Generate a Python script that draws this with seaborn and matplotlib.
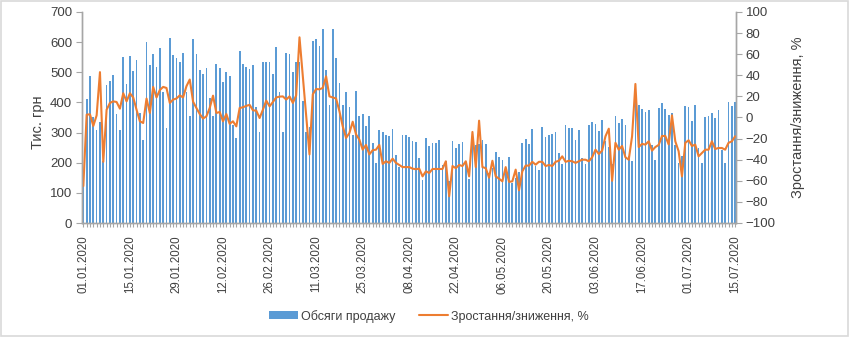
import matplotlib
matplotlib.use("Agg")
import matplotlib.pyplot as plt
from matplotlib.patches import Patch, Rectangle
from matplotlib.lines import Line2D
import seaborn as sns
import pandas as pd

# ---- data ----
sales = [
    130, 413, 487, 352, 307, 335, 205, 458, 472, 490,
    362, 310, 552, 461, 553, 505, 542, 365, 274, 599,
    523, 560, 518, 580, 435, 315, 614, 556, 547, 534,
    564, 435, 356, 610, 562, 509, 495, 514, 415, 356,
    528, 514, 468, 501, 488, 326, 282, 570, 528, 517,
    512, 523, 384, 301, 534, 533, 534, 495, 584, 435,
    302, 564, 562, 501, 534, 534, 406, 302, 319, 605,
    610, 586, 644, 509, 393, 645, 547, 463, 393, 435,
    384, 293, 437, 356, 362, 322, 355, 265, 199, 310,
    301, 291, 289, 313, 227, 185, 291, 293, 284, 271,
    268, 216, 144, 281, 257, 267, 267, 274, 191, 205,
    138, 271, 249, 263, 269, 202, 147, 263, 258, 262,
    274, 263, 166, 182, 236, 219, 210, 171, 219, 133,
    149, 169, 265, 280, 262, 312, 188, 177, 318, 284,
    293, 295, 301, 232, 196, 324, 315, 315, 276, 310,
    216, 196, 324, 335, 328, 304, 343, 271, 251, 196,
    354, 332, 345, 324, 221, 207, 413, 390, 379, 368,
    374, 260, 208, 382, 398, 378, 357, 365, 260, 199,
    221, 387, 385, 340, 390, 249, 199, 352, 355, 365,
    348, 374, 243, 199, 401, 389, 401,
]
pct = [
    -65, 2.7, 3, -8, 2, 43, -42, 7.4, 13.8, 15.3,
    14.7, 8.4, 23, 15.3, 23, 19, 7.4, -3.6, -5.2, 18,
    4.3, 29, 19, 26, 29, 28, 13.8, 17, 18, 21,
    19, 29.6, 36, 15, 9, 3.3, -1, 1.1, 9, 20.7,
    4.3, 5.2, -3.6, 3.3, -6, -3.6, -8.4, 9, 9.7, 11,
    12, 6.8, 6.5, -0.5, 7.4, 16, 10.6, 14.7, 19, 19.8,
    20, 17, 20, 13.8, 21, 76, 39, 2.7, -35, 22,
    27, 26.7, 28, 39, 20, 19, 18, 6, -8.4, -19.4,
    -14.7, -4, -16, -21, -30.5, -26, -35, -31, -30.5, -26,
    -44, -41.5, -43, -39, -43, -45, -47, -47, -47, -48.5,
    -49, -48.5, -55.8, -51, -52.6, -48.8, -48.8, -48.8, -48.8, -41.5,
    -74.7, -46, -48, -45, -46, -41.5, -55.8, -13.7, -47, -3,
    -47, -48, -57, -41, -55.8, -58, -60.5, -47, -61, -60.5,
    -49.4, -69, -51, -45.6, -45.6, -42, -44.7, -42, -42, -46,
    -45, -46, -42, -41, -36.8, -42, -41, -41.5, -43, -41.5,
    -40, -40, -41.5, -37.7, -30.5, -34.6, -31.4, -17.8, -10.6, -60,
    -24, -30.5, -27, -37.7, -40, -17.8, 31.8, -28, -25, -25.7,
    -22.6, -31.4, -28, -26, -17.5, -17.5, -25.5, 2, -22.6, -32,
    -55.8, -24, -21.6, -27, -25.7, -36.8, -33.6, -30.5, -30.5, -22.6,
    -29.8, -28.9, -28.9, -30.5, -24, -22.6, -17.8,
]
date_labels = [
    "01.01.2020", "15.01.2020", "29.01.2020", "12.02.2020", "26.02.2020",
    "11.03.2020", "25.03.2020", "08.04.2020", "22.04.2020", "06.05.2020",
    "20.05.2020", "03.06.2020", "17.06.2020", "01.07.2020", "15.07.2020",
]
label_step = 14
bar_name = "Обсяги продажу"
line_name = "Зростання/зниження, %"

BLUE = "#5B9BD5"
ORANGE = "#ED7D31"
AXC = "#A6A6A6"
TXT = "#404040"

sns.set_theme(style="white")
plt.rcParams["font.family"] = ["Liberation Sans", "DejaVu Sans"]

df = pd.DataFrame({"day": list(range(len(sales))), "sales": sales, "pct": pct})

fig = plt.figure(figsize=(8.5, 3.37), dpi=100)
ax = fig.add_axes([82 / 850, 1 - 223 / 337, (736 - 82) / 850, (223 - 12) / 337])
sns.barplot(data=df, x="day", y="sales", color=BLUE, saturation=1, width=0.52,
            ax=ax, native_scale=True, errorbar=None, linewidth=0)
ax2 = ax.twinx()
sns.lineplot(data=df, x="day", y="pct", color=ORANGE, lw=1.5, ax=ax2, errorbar=None)

ax.set_xlim(-0.4, len(sales) - 0.75)
ax.set_ylim(0, 700)
ax.set_yticks(range(0, 701, 100))
ax2.set_ylim(-100, 100)
ax2.set_yticks(range(-100, 101, 20))

ax.set_xticks(range(0, len(sales), label_step))
ax.set_xticklabels(date_labels, rotation=90, fontsize=8.3, color=TXT)
ax.set_xticks(range(len(sales)), minor=True)
ax.tick_params(axis="x", which="both", direction="out", length=3, width=0.8,
               color=AXC, bottom=True, pad=6)
ax.tick_params(axis="y", direction="out", length=4, width=0.8, color=AXC,
               labelsize=9.5, labelcolor=TXT, left=True, pad=3)
ax2.tick_params(axis="y", direction="out", length=4, width=0.8, color=AXC,
                labelsize=9.5, labelcolor=TXT, right=True, pad=3)

for a in (ax, ax2):
    a.spines["top"].set_visible(False)
    for s in ("left", "right", "bottom"):
        a.spines[s].set_color(AXC)
        a.spines[s].set_linewidth(1.0)
    a.grid(False)

ax.set_xlabel("")
ax.set_ylabel("Тис. грн", fontsize=10.5, color=TXT)
ax.yaxis.set_label_coords(-0.057, 0.48)
ax2.set_ylabel(line_name, fontsize=10.5, color=TXT)
ax2.yaxis.set_label_coords(1.084, 0.5)

handles = [Patch(facecolor=BLUE, edgecolor="none"),
           Line2D([], [], color=ORANGE, lw=1.5)]
fig.legend(handles, [bar_name, line_name], loc="center",
           bbox_to_anchor=(0.505, 0.062), ncol=2, frameon=False,
           prop={"family": ["Liberation Sans Narrow", "Liberation Sans"], "size": 9},
           handlelength=2.3, handleheight=0.6, handletextpad=0.25,
           columnspacing=1.9, labelcolor=TXT)

fig.patches.append(Rectangle((0.001, 0.002), 0.997, 0.995, transform=fig.transFigure,
                             fill=False, edgecolor="#D9D9D9", lw=1.2))

fig.savefig("out.png", dpi=100)
